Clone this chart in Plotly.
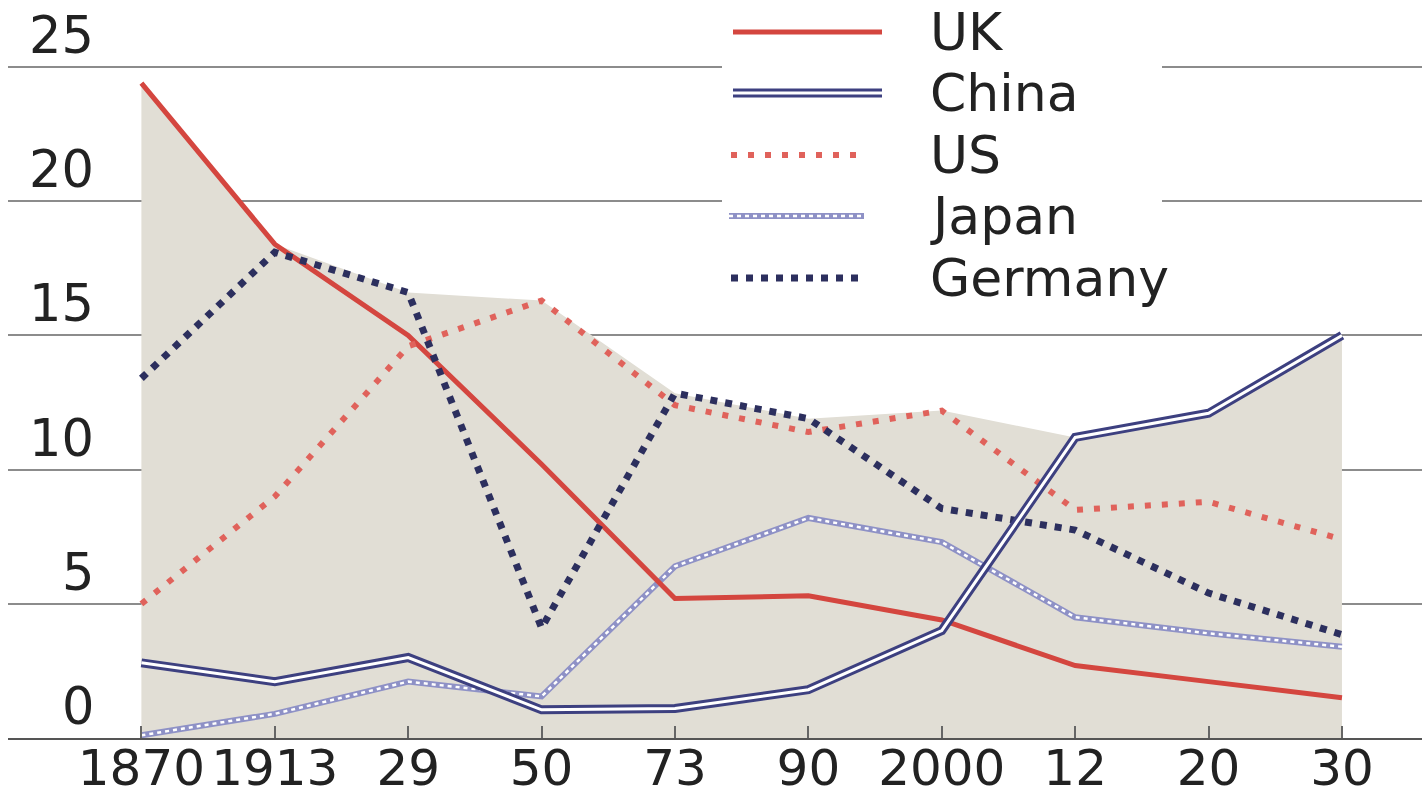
import numpy as np
import plotly.graph_objects as go

# Share of world GDP (%) by year
years = ["1870", "1913", "29", "50", "73", "90", "2000", "12", "20", "30"]
uk = [24.4, 18.4, 15.0, 10.2, 5.2, 5.3, 4.4, 2.7, 2.1, 1.5]
china = [2.8, 2.1, 3.0, 1.05, 1.1, 1.8, 4.0, 11.2, 12.1, 15.0]
us = [5.0, 9.0, 14.6, 16.3, 12.4, 11.4, 12.2, 8.5, 8.8, 7.4]
japan = [0.1, 0.9, 2.1, 1.55, 6.4, 8.2, 7.3, 4.5, 3.9, 3.4]
germany = [13.4, 18.1, 16.6, 4.1, 12.85, 11.9, 8.55, 7.75, 5.4, 3.85]
y_ticks = [0, 5, 10, 15, 20, 25]

W, H = 1422, 797
ML, MR, MT, MB = 8, 0, 0, 59
PW, PH = W - ML - MR, H - MT - MB

RED = "#d4463f"
US_RED = "#e0625b"
NAVY = "#3d4080"
DARK = "#2c2f5e"
LAVENDER = "#8e91c6"
FILL = "#e1ded5"
FONT = "DejaVu Sans"
TEXT = "#222"


def px(x):
    return (x - ML) / PW


def py(y):
    return (H - MB - y) / PH


fig = go.Figure()

# shaded envelope under the highest series
envelope = np.max(np.array([uk, china, us, japan, germany]), axis=0)
fig.add_trace(go.Scatter(x=years, y=envelope, mode="lines", fill="tozeroy",
                         fillcolor=FILL, line=dict(width=0, color=FILL),
                         hoverinfo="skip", showlegend=False))

# Japan: ring-chain line (lavender with white core)
fig.add_trace(go.Scatter(x=years, y=japan, mode="lines", name="Japan",
                         line=dict(color=LAVENDER, width=6), showlegend=False))
fig.add_trace(go.Scatter(x=years, y=japan, mode="lines", hoverinfo="skip",
                         line=dict(color="white", width=2.5, dash="4px,4px"),
                         showlegend=False))
# UK: solid red
fig.add_trace(go.Scatter(x=years, y=uk, mode="lines", name="UK",
                         line=dict(color=RED, width=5), showlegend=False))
# US: red dots
fig.add_trace(go.Scatter(x=years, y=us, mode="lines", name="US",
                         line=dict(color=US_RED, width=6, dash="6px,11px"),
                         showlegend=False))
# Germany: dark navy dots
fig.add_trace(go.Scatter(x=years, y=germany, mode="lines", name="Germany",
                         line=dict(color=DARK, width=7, dash="7px,8px"),
                         showlegend=False))
# China: double line
fig.add_trace(go.Scatter(x=years, y=china, mode="lines", name="China",
                         line=dict(color=NAVY, width=9), showlegend=False))
fig.add_trace(go.Scatter(x=years, y=china, mode="lines", hoverinfo="skip",
                         line=dict(color="white", width=3), showlegend=False))

shapes = []
annotations = []

# legend panel
shapes.append(dict(type="rect", xref="paper", yref="paper", layer="above",
                   x0=px(722), x1=px(1162), y0=py(305), y1=py(0),
                   fillcolor="white", line=dict(width=0)))

legend_rows = [
    ("UK", 32, [dict(color=RED, width=5)]),
    ("China", 93, [dict(color=NAVY, width=9), dict(color="white", width=3)]),
    ("US", 155, [dict(color=US_RED, width=6, dash="6px,11px")]),
    ("Japan", 216, [dict(color=LAVENDER, width=6),
                    dict(color="white", width=2.5, dash="4px,4px")]),
    ("Germany", 278, [dict(color=DARK, width=7, dash="7px,8px")]),
]
sample_x = {"UK": (733, 882), "China": (733, 882), "US": (731, 866),
            "Japan": (729, 864), "Germany": (731, 866)}
for name, yc, styles in legend_rows:
    x0, x1 = sample_x[name]
    for st in styles:
        shapes.append(dict(type="line", xref="paper", yref="paper", layer="above",
                           x0=px(x0), x1=px(x1), y0=py(yc), y1=py(yc), line=st))
    annotations.append(dict(text=name, xref="paper", yref="paper",
                            x=px(928), y=py(yc), xanchor="left", yanchor="middle",
                            showarrow=False,
                            font=dict(family=FONT, size=52, color=TEXT)))

# value labels sitting above each gridline
for v in y_ticks:
    annotations.append(dict(text=str(v), xref="paper", yref="y",
                            x=px(96), y=v, xanchor="right", yanchor="bottom",
                            yshift=0, showarrow=False,
                            font=dict(family=FONT, size=51, color=TEXT)))

fig.update_layout(
    width=W, height=H,
    margin=dict(l=ML, r=MR, t=MT, b=MB),
    paper_bgcolor="white", plot_bgcolor="white",
    shapes=shapes, annotations=annotations,
    font=dict(family=FONT, color=TEXT),
)
fig.update_xaxes(type="category", categoryorder="array", categoryarray=years,
                 range=[-1.0, 9.6], showgrid=False, zeroline=False,
                 showline=True, linecolor="#555", linewidth=2,
                 ticks="inside", ticklen=12, tickcolor="#666", tickwidth=1.5,
                 tickangle=0, automargin=False, ticklabelstandoff=-15,
                 tickfont=dict(family=FONT, size=50, color=TEXT))
fig.update_yaxes(range=[0, 27.5], tickvals=y_ticks, showticklabels=False,
                 showgrid=True, gridcolor="#8c8c8c", gridwidth=1.5,
                 zeroline=False, showline=False, ticks="", automargin=False)

fig.write_html("out.html")
